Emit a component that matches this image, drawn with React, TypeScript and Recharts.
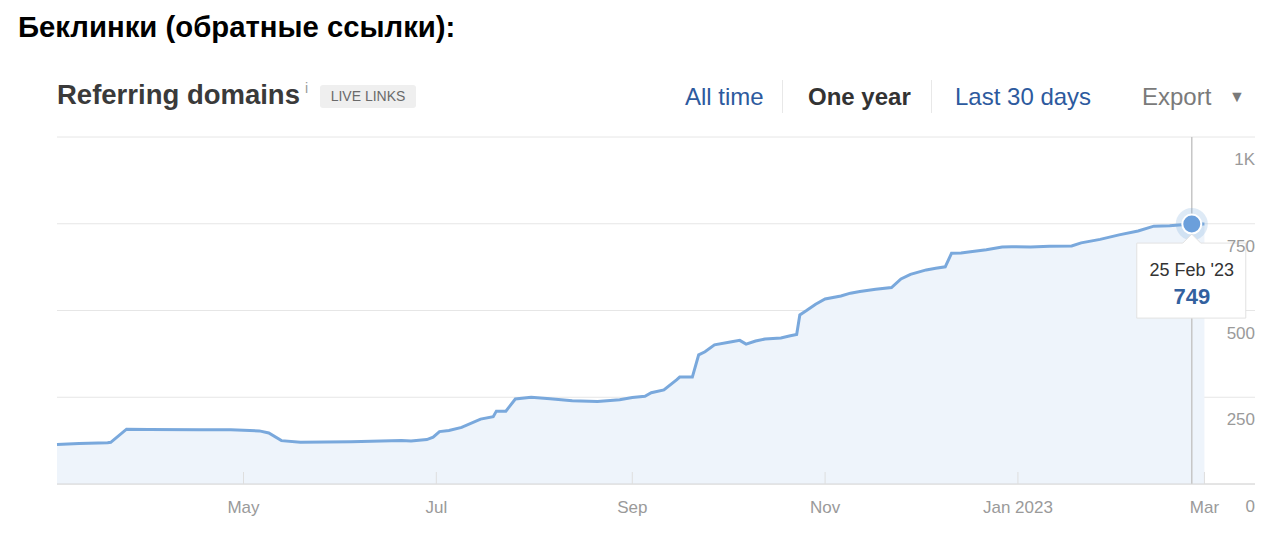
import React from "react";
import { AreaChart, Area, XAxis, YAxis, CartesianGrid, ReferenceLine, ReferenceDot } from "recharts";

// referring domains, one year view
const dates = [
  "2022-03-03", "2022-03-10", "2022-03-19", "2022-03-20", "2022-03-25", "2022-04-01", "2022-04-17",
  "2022-04-27", "2022-05-06", "2022-05-09", "2022-05-13", "2022-05-19", "2022-06-04", "2022-06-20",
  "2022-06-23", "2022-06-28", "2022-06-30", "2022-07-02", "2022-07-05", "2022-07-09", "2022-07-15",
  "2022-07-19", "2022-07-20", "2022-07-23", "2022-07-26", "2022-07-31", "2022-08-06", "2022-08-13",
  "2022-08-21", "2022-08-28", "2022-09-01", "2022-09-05", "2022-09-07", "2022-09-11", "2022-09-15",
  "2022-09-16", "2022-09-20", "2022-09-22", "2022-09-24", "2022-09-27", "2022-10-02", "2022-10-05",
  "2022-10-07", "2022-10-10", "2022-10-13", "2022-10-18", "2022-10-21", "2022-10-23", "2022-10-24",
  "2022-10-26", "2022-10-29", "2022-11-01", "2022-11-06", "2022-11-09", "2022-11-12", "2022-11-17",
  "2022-11-22", "2022-11-25", "2022-11-28", "2022-12-03", "2022-12-06", "2022-12-09", "2022-12-11",
  "2022-12-14", "2022-12-17", "2022-12-22", "2022-12-27", "2022-12-30", "2023-01-05", "2023-01-11",
  "2023-01-18", "2023-01-21", "2023-01-27", "2023-02-02", "2023-02-08", "2023-02-13", "2023-02-18",
  "2023-02-25", "2023-03-01",
];
const domains = [
  114, 117, 119, 120, 158, 157, 156,
  156, 153, 147, 125, 120, 122, 125,
  124, 128, 135, 151, 154, 163, 187,
  194, 210, 210, 245, 250, 246, 240,
  238, 243, 249, 253, 263, 271, 300,
  308, 308, 372, 381, 401, 409, 414,
  403, 412, 418, 421, 427, 431, 487,
  499, 518, 533, 542, 550, 555, 561,
  566, 591, 604, 617, 622, 626, 665,
  666, 669, 675, 683, 684, 683, 685,
  686, 695, 705, 718, 729, 743, 744,
  749, 749,
];

const rangeStart = "2022-03-03";
const rangeEnd = "2023-03-17";
const monthTicks = ["2022-05-01", "2022-07-01", "2022-09-01", "2022-11-01", "2023-01-01", "2023-03-01"];
const monthLabels = ["May", "Jul", "Sep", "Nov", "Jan 2023", "Mar"];
const valueTicks = [0, 250, 500, 750, 1000];
const valueLabels = ["0", "250", "500", "750", "1K"];

const hoverDate = "2023-02-25";
const hoverValue = 749;
const hoverLabel = "25 Feb '23";

const toTs = (d: string) => Date.parse(d + "T00:00:00Z");
const data = dates.map((d, i) => ({ t: toTs(d), v: domains[i] }));
const tickTs = monthTicks.map(toTs);

const FONT = '"Liberation Sans", Arial, Helvetica, sans-serif';

const XTick = (props: any) => {
  const { x, y, payload } = props;
  const label = monthLabels[tickTs.indexOf(payload.value)];
  return (
    <g>
      <line x1={x} x2={x} y1={y - 12} y2={y} stroke="#dedede" />
      <text x={x} y={y + 29} textAnchor="middle" fill="#9a9a9a" fontSize={17} fontFamily={FONT}>
        {label}
      </text>
    </g>
  );
};

const YTick = (props: any) => {
  const { x, y, payload } = props;
  return (
    <text x={x} y={y + 28} textAnchor="end" fill="#9a9a9a" fontSize={17} fontFamily={FONT}>
      {valueLabels[valueTicks.indexOf(payload.value)]}
    </text>
  );
};

const HoverMarker = (props: any) => {
  const { cx, cy } = props;
  const l = cx - 55, r = cx + 54, t = cy + 19, b = cy + 94;
  const box = `M${l},${t} L${cx - 9},${t} L${cx},${t - 9} L${cx + 9},${t} L${r},${t} L${r},${b} L${l},${b} Z`;
  return (
    <g>
      <circle cx={cx} cy={cy} r={16} fill="#7aaadc" fillOpacity={0.25} />
      <circle cx={cx} cy={cy} r={9.5} fill="#6b9fdb" stroke="#fff" strokeWidth={2} />
      <path d={box} fill="#fff" stroke="#e2e2e2" />
      <text x={cx} y={cy + 52} textAnchor="middle" fill="#333" fontSize={18} fontFamily={FONT}>
        {hoverLabel}
      </text>
      <text x={cx} y={cy + 80} textAnchor="middle" fill="#33619f" fontSize={22} fontWeight="bold" fontFamily={FONT}>
        {hoverValue}
      </text>
    </g>
  );
};

const sep: React.CSSProperties = { position: "absolute", top: 80, width: 1, height: 33, background: "#e8e8e8" };
const navText: React.CSSProperties = { position: "absolute", top: 85, fontSize: 24, lineHeight: 1, whiteSpace: "nowrap" };

export default function App() {
  return (
    <div style={{ position: "absolute", left: 0, top: 0, width: 1286, height: 546, background: "#fff", fontFamily: FONT }}>
      <div style={{ position: "absolute", left: 18, top: 12, fontSize: 29.3, lineHeight: 1, fontWeight: "bold", color: "#000", whiteSpace: "nowrap" }}>
        Беклинки (обратные ссылки):
      </div>

      <div style={{ position: "absolute", left: 57, top: 81, fontSize: 27.5, lineHeight: 1, fontWeight: "bold", color: "#3a3a3a", whiteSpace: "nowrap" }}>
        Referring domains
      </div>
      <div style={{ position: "absolute", left: 305, top: 81, fontSize: 14, lineHeight: 1, color: "#999" }}>i</div>
      <div style={{ position: "absolute", left: 320, top: 85, width: 96, height: 23, lineHeight: "23px", background: "#efefef", borderRadius: 3, textAlign: "center", fontSize: 14, color: "#6a6a6a" }}>
        LIVE LINKS
      </div>

      <div style={{ ...navText, left: 685, color: "#2d5a9e" }}>All time</div>
      <div style={{ ...sep, left: 782 }} />
      <div style={{ ...navText, left: 808, color: "#333", fontWeight: "bold" }}>One year</div>
      <div style={{ ...sep, left: 931 }} />
      <div style={{ ...navText, left: 955, color: "#2d5a9e" }}>Last 30 days</div>
      <div style={{ ...navText, left: 1142, color: "#7a7a7a" }}>Export</div>
      <div style={{ position: "absolute", left: 1229, top: 89, fontSize: 16, lineHeight: 1, color: "#7a7a7a" }}>▼</div>

      <div style={{ position: "absolute", left: 0, top: 0 }}>
        <AreaChart width={1286} height={546} data={data} margin={{ top: 137, right: 30, bottom: 22, left: 57 }}>
          <CartesianGrid vertical={false} stroke="#e6e6e6" />
          <XAxis
            dataKey="t"
            type="number"
            scale="time"
            domain={[toTs(rangeStart), toTs(rangeEnd)]}
            ticks={tickTs}
            interval={0}
            height={40}
            tickSize={0}
            tickMargin={0}
            tick={<XTick />}
            axisLine={{ stroke: "#d6d6d6" }}
            tickLine={false}
          />
          <YAxis
            orientation="right"
            width={1}
            domain={[0, 1000]}
            ticks={valueTicks}
            interval={0}
            tickSize={0}
            tickMargin={0}
            tick={<YTick />}
            axisLine={false}
            tickLine={false}
          />
          <Area
            type="linear"
            dataKey="v"
            stroke="#79a8dc"
            strokeWidth={3}
            fill="#eef4fb"
            fillOpacity={1}
            dot={false}
            activeDot={false}
            isAnimationActive={false}
          />
          <ReferenceLine x={toTs(hoverDate)} stroke="#c6c6c6" strokeWidth={1.5} />
          <ReferenceDot x={toTs(hoverDate)} y={hoverValue} shape={<HoverMarker />} />
        </AreaChart>
      </div>
    </div>
  );
}
